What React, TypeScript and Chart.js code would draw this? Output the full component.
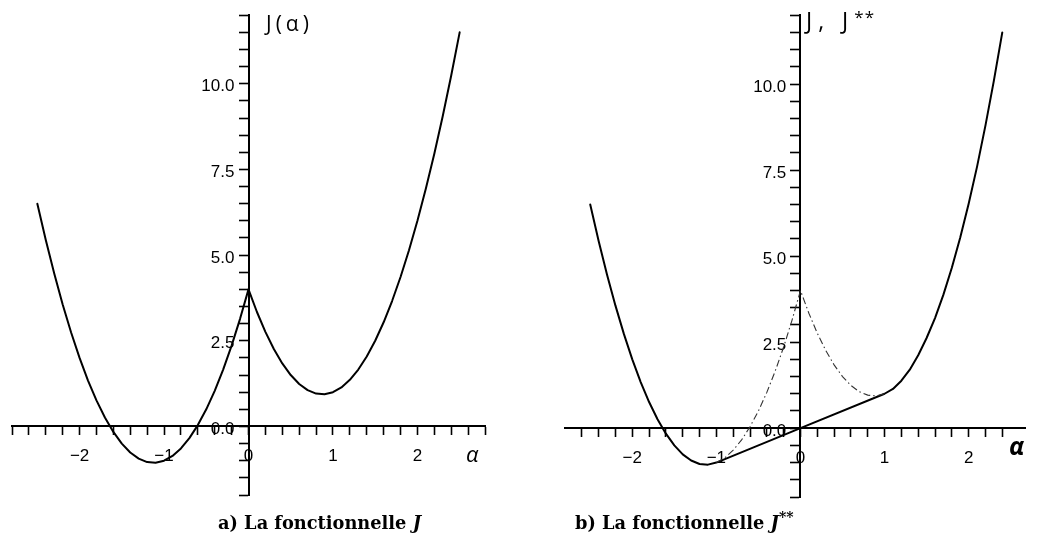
import React, { useEffect, useRef } from "react";
import { Chart, registerables } from "chart.js";

Chart.register(...registerables);

// ---------- data ----------
// a) J(alpha)
const alphaJ = [
  -2.5, -2.4, -2.3, -2.2, -2.1, -2.0, -1.9, -1.8, -1.7, -1.6,
  -1.5, -1.4, -1.3, -1.2, -1.1, -1.0, -0.9, -0.8, -0.7, -0.6,
  -0.5, -0.4, -0.3, -0.2, -0.1, 0.0, 0.1, 0.2, 0.3, 0.4,
  0.5, 0.6, 0.7, 0.8, 0.9, 1.0, 1.1, 1.2, 1.3, 1.4,
  1.5, 1.6, 1.7, 1.8, 1.9, 2.0, 2.1, 2.2, 2.3, 2.4, 2.5,
];
const valuesJ = [
  6.5, 5.44, 4.46, 3.56, 2.74, 2.0, 1.34, 0.76, 0.26, -0.16,
  -0.5, -0.76, -0.94, -1.04, -1.06, -1.0, -0.86, -0.64, -0.34, 0.04,
  0.5, 1.04, 1.66, 2.36, 3.14, 4.0, 3.34, 2.76, 2.26, 1.84,
  1.5, 1.24, 1.06, 0.96, 0.94, 1.0, 1.14, 1.36, 1.66, 2.04,
  2.5, 3.04, 3.66, 4.36, 5.14, 6.0, 6.94, 7.96, 9.06, 10.24, 11.5,
];

// b) J** (solid) and J between the contact points (dash-dot)
const alphaJss = [
  -2.5, -2.4, -2.3, -2.2, -2.1, -2.0, -1.9, -1.8, -1.7, -1.6,
  -1.5, -1.4, -1.3, -1.2, -1.1, -1.0, 0.0, 1.0, 1.1, 1.2,
  1.3, 1.4, 1.5, 1.6, 1.7, 1.8, 1.9, 2.0, 2.1, 2.2, 2.3, 2.4,
];
const valuesJss = [
  6.5, 5.44, 4.46, 3.56, 2.74, 2.0, 1.34, 0.76, 0.26, -0.16,
  -0.5, -0.76, -0.94, -1.04, -1.06, -1.0, 0.0, 1.0, 1.14, 1.38,
  1.7, 2.12, 2.62, 3.2, 3.88, 4.66, 5.54, 6.52, 7.6, 8.8, 10.1, 11.5,
];
const alphaJmid = [
  -1.0, -0.9, -0.8, -0.7, -0.6, -0.5, -0.4, -0.3, -0.2, -0.1, 0.0,
  0.1, 0.2, 0.3, 0.4, 0.5, 0.6, 0.7, 0.8, 0.9, 1.0,
];
const valuesJmid = [
  -1.0, -0.86, -0.64, -0.34, 0.04, 0.5, 1.04, 1.66, 2.36, 3.14, 4.0,
  3.34, 2.76, 2.26, 1.84, 1.5, 1.24, 1.06, 0.96, 0.94, 1.0,
];

// tick labels
const xTickValues = [-2, -1, 0, 1, 2];
const xTickLabels = ["\u22122", "\u22121", "0", "1", "2"];
const yTickValues = [0, 2.5, 5, 7.5, 10];
const yTickLabels = ["0.0", "2.5", "5.0", "7.5", "10.0"];

const TICK_FONT = { family: "'Liberation Sans', Arial, Helvetica, sans-serif", size: 17 };
// Chart.js right-aligns y labels on an axis placed at a value; keep them clear of the ticks
const Y_LABEL_GAP = "   ";

function pts(xs: number[], ys: number[]) {
  return xs.map((x, i) => ({ x, y: ys[i] }));
}

function labelFor(values: number[], labels: string[], v: number) {
  for (let i = 0; i < values.length; i++) {
    if (Math.abs(values[i] - v) < 1e-6) return labels[i];
  }
  return "";
}

function makeOptions(xMax: number, lastTick: number, padding: any) {
  return {
    responsive: false,
    maintainAspectRatio: false,
    animation: false,
    events: [],
    layout: { padding },
    plugins: { legend: { display: false }, tooltip: { enabled: false }, title: { display: false } },
    scales: {
      x: {
        type: "linear",
        min: -2.8,
        max: xMax,
        position: { y: 0 },
        border: { display: true, color: "#000", width: 2 },
        grid: { drawOnChartArea: false, drawTicks: true, tickLength: 8, tickWidth: 1.6, tickColor: "#000" },
        afterBuildTicks: (s: any) => {
          s.ticks = s.ticks.filter((t: any) => t.value <= lastTick + 1e-6);
        },
        ticks: {
          stepSize: 0.2,
          autoSkip: false,
          maxRotation: 0,
          minRotation: 0,
          includeBounds: false,
          padding: 12,
          color: "#000",
          font: TICK_FONT,
          callback: (v: any) => labelFor(xTickValues, xTickLabels, Number(v)),
        },
      },
      y: {
        type: "linear",
        min: -2,
        max: 12,
        position: { x: 0 },
        border: { display: true, color: "#000", width: 2 },
        grid: { drawOnChartArea: false, drawTicks: true, tickLength: 9, tickWidth: 1.6, tickColor: "#000" },
        ticks: {
          stepSize: 0.5,
          autoSkip: false,
          padding: 5,
          labelOffset: 3,
          color: "#000",
          font: TICK_FONT,
          callback: (v: any) => {
            const l = labelFor(yTickValues, yTickLabels, Number(v));
            return l ? l + Y_LABEL_GAP : "";
          },
        },
      },
    },
  };
}

function ChartBox(props: { build: () => any; left: number; width: number; height: number }) {
  const ref = useRef<HTMLCanvasElement | null>(null);
  useEffect(() => {
    if (!ref.current) return;
    const chart = new Chart(ref.current, props.build());
    return () => chart.destroy();
  }, []);
  return (
    <canvas
      ref={ref}
      width={props.width}
      height={props.height}
      style={{ position: "absolute", left: props.left, top: 0, width: props.width, height: props.height }}
    />
  );
}

const solid = {
  borderColor: "#000",
  borderWidth: 2,
  pointRadius: 0,
  tension: 0,
  borderJoinStyle: "round",
  borderCapStyle: "round",
  fill: false,
};

function buildLeft() {
  return {
    type: "line",
    data: {
      datasets: [{ ...solid, data: pts(alphaJ, valuesJ) }],
    },
    options: makeOptions(2.8, 2.8, { left: 9, right: 35, top: 15, bottom: 49 }),
  };
}

function buildRight() {
  return {
    type: "line",
    data: {
      datasets: [
        {
          borderColor: "#333",
          borderWidth: 1.1,
          borderDash: [7, 3, 1.5, 3],
          pointRadius: 0,
          tension: 0,
          fill: false,
          data: pts(alphaJmid, valuesJmid),
        },
        { ...solid, data: pts(alphaJss, valuesJss) },
      ],
    },
    options: makeOptions(2.67, 2.4, { left: 45, right: 16, top: 13, bottom: 47 }),
  };
}

const handFont = "'Open Sans', 'DejaVu Sans', sans-serif";
const capFont = "'DejaVu Serif', 'Liberation Serif', serif";

export default function App() {
  return (
    <div style={{ position: "fixed", left: 0, top: 0, width: 1041, height: 544, background: "#fff", overflow: "hidden" }}>
      <ChartBox build={buildLeft} left={0} width={520} height={544} />
      <ChartBox build={buildRight} left={520} width={521} height={544} />

      <div style={{ position: "absolute", left: 266, top: 9, font: `21px ${handFont}`, letterSpacing: 4, color: "#000" }}>
        J(α)
      </div>
      <div style={{ position: "absolute", left: 806, top: 6, font: `23px ${handFont}`, letterSpacing: 6, color: "#000", whiteSpace: "nowrap", lineHeight: "28px" }}>
        J, J<span style={{ position: "relative", top: -6, fontSize: 17, letterSpacing: 1 }}>**</span>
      </div>
      <div style={{ position: "absolute", left: 466, top: 438, font: `italic 22px ${handFont}`, color: "#000" }}>α</div>
      <div style={{ position: "absolute", left: 1009, top: 428, font: `italic bold 25px ${handFont}`, color: "#000" }}>α</div>

      <div style={{ position: "absolute", left: 218, top: 512, font: `bold 17.8px ${capFont}`, color: "#000", whiteSpace: "nowrap", lineHeight: "22px" }}>
        a) La fonctionnelle <i>J</i>
      </div>
      <div style={{ position: "absolute", left: 575, top: 512, font: `bold 17.8px ${capFont}`, color: "#000", whiteSpace: "nowrap", lineHeight: "22px" }}>
        b) La fonctionnelle <i>J</i>
        <span style={{ position: "relative", top: -7, fontSize: 14 }}>**</span>
      </div>
    </div>
  );
}
